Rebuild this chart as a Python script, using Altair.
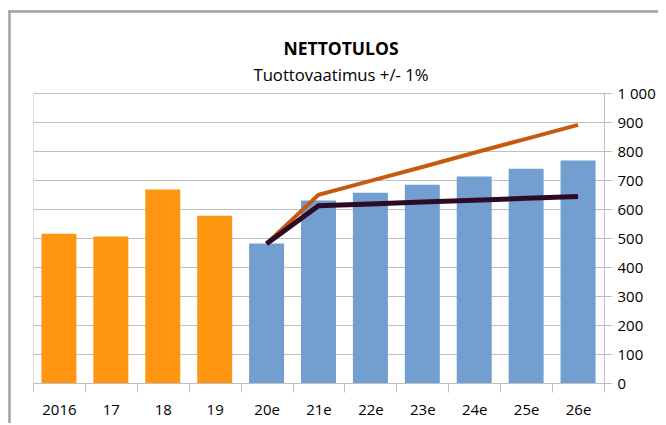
import altair as alt
import pandas as pd

# ---- data ----
categories = ["2016", "17", "18", "19", "20e", "21e", "22e", "23e", "24e", "25e", "26e"]
bar_values = [515, 505, 667, 577, 481, 629, 656, 684, 712, 739, 767]
bar_kind = ["toteutunut"] * 4 + ["ennuste"] * 7

line_categories = ["20e", "21e", "22e", "23e", "24e", "25e", "26e"]
line_plus = [480, 649, 697, 745, 794, 842, 890]     # orange line
line_minus = [480, 611, 617, 624, 630, 637, 643]    # dark line

y_ticks = [0, 100, 200, 300, 400, 500, 600, 700, 800, 900, 1000]

title_text = "NETTOTULOS"
subtitle_text = "Tuottovaatimus +/- 1%"

FONT = "Open Sans"
ORANGE_BAR = "#FE9611"
BLUE_BAR = "#729FCF"
ORANGE_LINE = "#C55A11"
DARK_LINE = "#2E0A29"
GRID = "#BFBFBF"
FRAME = "#A0A0A0"

bars_df = pd.DataFrame({"cat": categories, "value": bar_values, "kind": bar_kind})
lines_df = pd.concat([
    pd.DataFrame({"cat": line_categories, "value": line_plus, "series": "plus"}),
    pd.DataFrame({"cat": line_categories, "value": line_minus, "series": "minus"}),
])

PW, PH = 571, 290

x_axis = alt.Axis(title=None, labelAngle=0, labelFont=FONT, labelFontSize=15,
                  labelColor="black", domainColor=GRID, tickColor=GRID,
                  tickSize=9, tickBand="extent", labelPadding=10, grid=False)
x_scale = alt.Scale(domain=categories, paddingInner=0, paddingOuter=0)
y_axis = alt.Axis(title=None, orient="right", values=y_ticks, labelOverlap=False,
                  labelExpr="replace(format(datum.value, ','), ',', ' ')",
                  labelFont=FONT, labelFontSize=15, labelColor="black",
                  domainColor=GRID, tickColor=GRID, tickSize=8, labelPadding=5,
                  grid=True, gridColor=GRID, gridWidth=1)
y_scale = alt.Scale(domain=[0, 1000], nice=False)

bars = alt.Chart(bars_df).mark_bar(size=35).encode(
    x=alt.X("cat:N", sort=categories, scale=x_scale, axis=x_axis),
    y=alt.Y("value:Q", scale=y_scale, axis=y_axis),
    color=alt.Color("kind:N", scale=alt.Scale(domain=["toteutunut", "ennuste"],
                                              range=[ORANGE_BAR, BLUE_BAR]), legend=None),
)

lines = alt.Chart(lines_df).mark_line(strokeCap="butt").encode(
    x=alt.X("cat:N", sort=categories, scale=x_scale, axis=x_axis),
    y=alt.Y("value:Q", scale=y_scale, axis=y_axis),
    stroke=alt.Stroke("series:N", scale=alt.Scale(domain=["plus", "minus"],
                                                  range=[ORANGE_LINE, DARK_LINE]), legend=None),
    strokeWidth=alt.StrokeWidth("series:N", scale=alt.Scale(domain=["plus", "minus"],
                                                            range=[4, 5]), legend=None),
)

one = alt.Data(values=[{"a": 1}])

title_mark = alt.Chart(one).mark_text(font=FONT, fontSize=17.5, fontWeight="bold",
                                      color="black", baseline="alphabetic", align="center").encode(
    x=alt.value(308), y=alt.value(-38), text=alt.value(title_text))
subtitle_mark = alt.Chart(one).mark_text(font=FONT, fontSize=16.7, color="black",
                                         baseline="alphabetic", align="center").encode(
    x=alt.value(308), y=alt.value(-12.5), text=alt.value(subtitle_text))

frame_left = alt.Chart(one).mark_rule(color=FRAME, strokeWidth=2.5).encode(
    x=alt.value(-23.5), y=alt.value(-82.5), y2=alt.value(400))
frame_top = alt.Chart(one).mark_rule(color=FRAME, strokeWidth=2.5).encode(
    x=alt.value(-24.75), x2=alt.value(700), y=alt.value(-81.5))

chart = alt.layer(bars, lines, title_mark, subtitle_mark, frame_left, frame_top).properties(
    width=PW, height=PH,
    autosize=alt.AutoSizeParams(type="none"),
    padding={"left": 25, "top": 85, "right": 54, "bottom": 40},
).configure_view(stroke="#D9D9D9").configure(background="white")

chart.save("out.html", embed_options={"renderer": "svg", "actions": False})
